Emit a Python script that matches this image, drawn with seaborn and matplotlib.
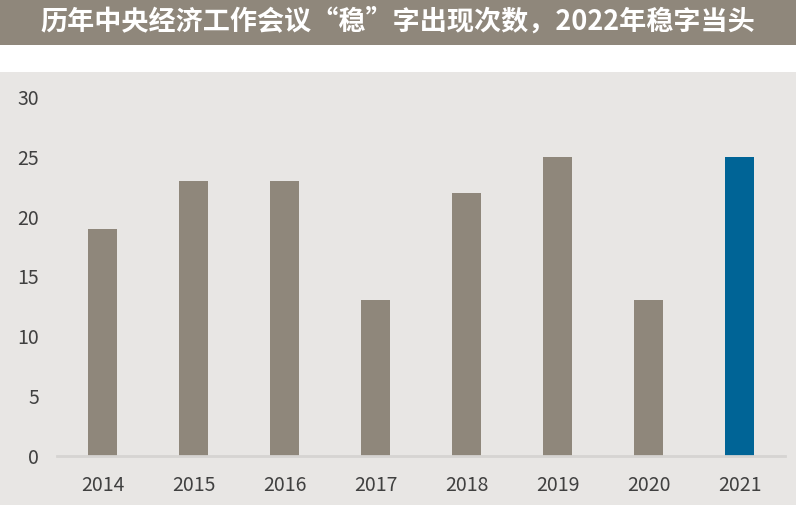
import matplotlib
matplotlib.use('Agg')
import matplotlib.pyplot as plt
import seaborn as sns
import pandas as pd
from matplotlib.patches import Rectangle

years = ['2014', '2015', '2016', '2017', '2018', '2019', '2020', '2021']
counts = [19, 23, 23, 13, 22, 25, 13, 25]
bar_colors = ['#8f877b'] * 7 + ['#006496']

title = '历年中央经济工作会议“稳”字出现次数，2022年稳字当头'

sns.set_style('white')
plt.rcParams['font.family'] = ['Noto Sans CJK SC', 'DejaVu Sans']

df = pd.DataFrame({'year': years, 'count': counts})

fig = plt.figure(figsize=(7.96, 5.05), dpi=100)
fig.patch.set_facecolor('white')

# title band and grey chart area (behind the axes)
fig.patches.append(Rectangle((0, 1 - 45 / 505), 1, 45 / 505, transform=fig.transFigure,
                             facecolor='#8f877b', edgecolor='none', zorder=-1))
fig.patches.append(Rectangle((0, 0), 1, 1 - 72 / 505, transform=fig.transFigure,
                             facecolor='#e8e6e4', edgecolor='none', zorder=-1))
fig.text(0.5, 1 - 22 / 505, title, color='white', fontsize=19.5, fontweight='bold',
         ha='center', va='center')

ax = fig.add_axes([57 / 796, 49 / 505, 728 / 796, 359 / 505])
ax.patch.set_alpha(0)
sns.barplot(data=df, x='year', y='count', hue='year', palette=bar_colors,
            legend=False, width=0.32, saturation=1, linewidth=0, ax=ax)

ax.set_ylim(0, 30)
ax.set_yticks(range(0, 31, 5))
ax.set_xlabel('')
ax.set_ylabel('')
for s in ['top', 'right', 'left']:
    ax.spines[s].set_visible(False)
ax.spines['bottom'].set_color('#d6d4d2')
ax.spines['bottom'].set_linewidth(2)
ax.tick_params(axis='both', length=0, labelsize=14, colors='#404040')
ax.tick_params(axis='y', pad=13)
ax.tick_params(axis='x', pad=14)

fig.savefig('out.png', dpi=100)
